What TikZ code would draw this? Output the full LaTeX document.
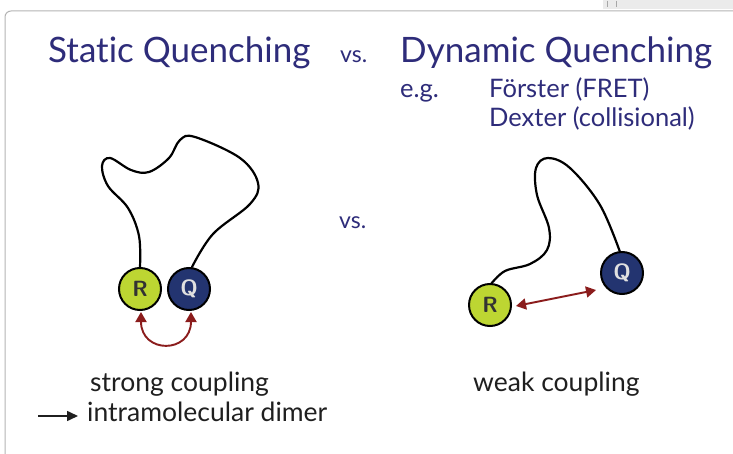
\documentclass[tikz,border=0pt]{standalone}
\usepackage{fontspec}
\setmainfont[Ligatures=NoCommon]{Lato}
\usetikzlibrary{arrows.meta}
\definecolor{titleblue}{HTML}{2E2C7A}
\definecolor{rcol}{HTML}{BDD632}
\definecolor{qcol}{HTML}{233470}
\definecolor{arrred}{HTML}{8B1C1C}
\definecolor{frame}{HTML}{B4B4B4}
\tikzset{
  title/.style={anchor=base west, inner sep=0pt, text=titleblue, font=\fontsize{35}{40}\selectfont},
  sub/.style={anchor=base west, inner sep=0pt, text=titleblue, font=\fontsize{25.5}{30}\selectfont},
  vslabel/.style={anchor=base west, inner sep=0pt, text=titleblue, font=\fontsize{23}{26}\selectfont},
  body/.style={anchor=base west, inner sep=0pt, text=black!88, font=\fontsize{26.5}{30}\selectfont},
  rball/.style={circle, draw=black, line width=2pt, fill=rcol, minimum size=42pt, inner sep=0pt, text=black!80, font=\sffamily\bfseries\fontsize{22}{22}\selectfont},
  qball/.style={circle, draw=black, line width=2pt, fill=qcol, minimum size=42pt, inner sep=0pt, text=white!88!black, font=\sffamily\bfseries\fontsize{22}{22}\selectfont},
  strand/.style={line width=2.2pt, black, line cap=round},
  couple/.style={line width=1.9pt, arrred, {Triangle[length=10pt,width=11pt]}-{Triangle[length=10pt,width=11pt]}},
}
\begin{document}
\begin{tikzpicture}[x=1pt,y=-1pt]
\useasboundingbox (0,0) rectangle (733,454);
\fill[white] (0,0) rectangle (733,454);
% top-right toolbar strip
\fill[black!8] (603,0) rectangle (733,9);
\draw[black!35, line width=0.5pt] (607,1) -- (607,7) (616,1) -- (616,7);
% slide frame
\draw[frame, line width=1pt, rounded corners=6pt] (5,470) -- (5,11) -- (750,11);

% titles
\node[title] (st) at (48,63) {Static Quenching};
\node[vslabel] (vs1) at (340,63) {vs.};
\node[title] (dy) at (400,63) {Dynamic Quenching};
\node[sub] (eg) at (400,98) {e.g.};
\node[sub] (fo) at (489,98) {Förster (FRET)};
\node[sub] (de) at (489,127) {Dexter (collisional)};
\node[vslabel] (vs2) at (339,229) {vs.};

% static: balls
\node[rball] (R1) at (140,289) {R};
\node[qball] (Q1) at (189,289) {Q};
\draw[strand] (R1.north) plot[smooth, tension=0.6] coordinates {(140,267) (139,236) (128,208) (108,186) (102,166) (110,158) (131,170) (149,172) (169,158) (180,140) (195,137) (240,158) (258,183) (250,204) (213,234) (192,267)};
\coordinate (a1) at (141,312);
\coordinate (a2) at (191,312);
\draw[couple] (a1) .. controls (141,354) and (191,354) .. (a2);

% dynamic: balls
\node[rball] (R2) at (490,305) {R};
\node[qball] (Q2) at (622,273) {Q};
\draw[strand] (R2.north) plot[smooth, tension=0.6] coordinates {(491,284) (505,271) (530,264) (547,250) (549,228) (537,195) (536,168) (548,158) (570,168) (600,205) (620,252)};
\coordinate (b1) at (516,306);
\coordinate (b2) at (596,290);
\draw[couple] (b1) -- (b2);

% captions
\node[body] (sc) at (90,391) {strong coupling};
\node[body] (im) at (87,421) {intramolecular dimer};
\coordinate (ar0) at (38,416);
\coordinate (ar1) at (78,416);
\draw[line width=1.6pt, black!88, -{Triangle[length=11pt,width=10pt]}] (ar0) -- (ar1);
\node[body] (wc) at (473,391) {weak coupling};
\end{tikzpicture}
\end{document}
